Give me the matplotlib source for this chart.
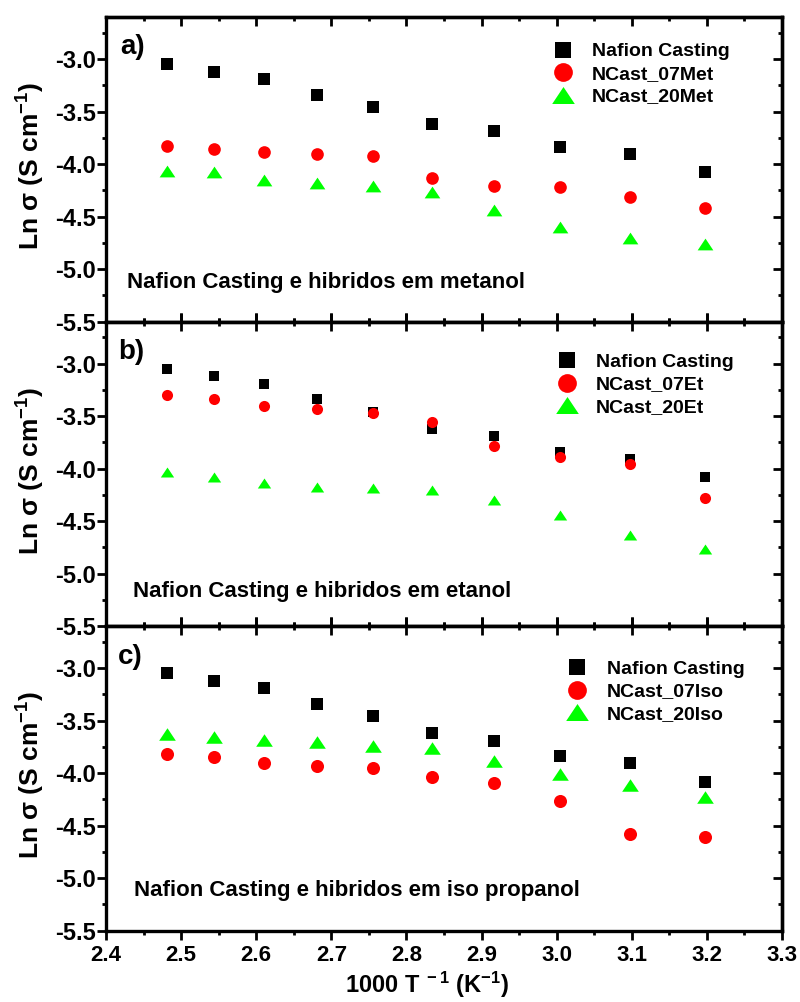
import matplotlib
matplotlib.use("Agg")
import matplotlib.pyplot as plt
from matplotlib.lines import Line2D
from matplotlib.ticker import MultipleLocator
from matplotlib.font_manager import FontProperties, findfont

plt.rcParams['font.family'] = ['Liberation Sans', 'DejaVu Sans']
plt.rcParams['font.weight'] = 'bold'
plt.rcParams['mathtext.fontset'] = 'custom'
plt.rcParams['mathtext.rm'] = 'Liberation Sans:bold'
plt.rcParams['mathtext.bf'] = 'Liberation Sans:bold'
plt.rcParams['mathtext.it'] = 'Liberation Sans:bold'
plt.rcParams['mathtext.default'] = 'bf'

# ---- data ----
inv_T = [2.481, 2.544, 2.611, 2.681, 2.756, 2.834, 2.917, 3.004, 3.098, 3.197]

nafion_casting = [-3.05, -3.12, -3.19, -3.34, -3.46, -3.62, -3.69, -3.84, -3.905, -4.08]

met_07 = [-3.83, -3.86, -3.886, -3.90, -3.925, -4.13, -4.21, -4.22, -4.31, -4.42]
met_20 = [-4.065, -4.08, -4.15, -4.18, -4.21, -4.27, -4.44, -4.60, -4.70, -4.76]

et_07 = [-3.30, -3.34, -3.40, -3.43, -3.475, -3.56, -3.785, -3.89, -3.955, -4.28]
et_20 = [-4.03, -4.08, -4.14, -4.175, -4.18, -4.20, -4.30, -4.44, -4.63, -4.77]

iso_07 = [-3.82, -3.85, -3.905, -3.93, -3.95, -4.04, -4.09, -4.265, -4.575, -4.61]
iso_20 = [-3.63, -3.66, -3.68, -3.70, -3.74, -3.76, -3.88, -4.01, -4.11, -4.23]

panel_tags = ['a)', 'b)', 'c)']
panel_notes = ['Nafion Casting e hibridos em metanol',
               'Nafion Casting e hibridos em etanol',
               'Nafion Casting e hibridos em iso propanol']
legend_labels = [['Nafion Casting', 'NCast_07Met', 'NCast_20Met'],
                 ['Nafion Casting', 'NCast_07Et', 'NCast_20Et'],
                 ['Nafion Casting', 'NCast_07Iso', 'NCast_20Iso']]
series_07 = [met_07, et_07, iso_07]
series_20 = [met_20, et_20, iso_20]

x_ticks = [2.4, 2.5, 2.6, 2.7, 2.8, 2.9, 3.0, 3.1, 3.2, 3.3]
y_ticks = [-5.5, -5.0, -4.5, -4.0, -3.5, -3.0]

# ---- styling ----
BLACK, RED, GREEN = '#000000', '#FF0000', '#00FF00'
TRI = [(-1, -0.75), (1, -0.75), (0, 0.75)]
SPW = 2.4
TW = 2.0
MAJ, MIN = 6.5, 3.2
BOLD_FILE = findfont(FontProperties(family='Liberation Sans', weight='bold'))
YTICK_FP = FontProperties(fname=BOLD_FILE, size=17)
XTICK_FP = FontProperties(fname=BOLD_FILE, size=16)

data_sizes = [(8.4, 9.1, 11.3), (7.7, 8.0, 9.6), (8.4, 9.4, 12.0)]
leg_sizes = (12, 13.5, 16.3)
leg_pos = [(0.661, 0.915), (0.667, 0.896), (0.683, 0.888)]
tag_pos = [(0.021, 0.90), (0.018, 0.90), (0.018, 0.90)]
note_pos = [(0.031, 0.129), (0.040, 0.114), (0.041, 0.133)]

fig = plt.figure(figsize=(8, 10.02), dpi=100)
gs = fig.add_gridspec(3, 1, left=106/800, right=782/800,
                      top=1-17/1002, bottom=1-930.7/1002, hspace=0)
axes = [fig.add_subplot(gs[i]) for i in range(3)]

for i, ax in enumerate(axes):
    sq, ci, tr = data_sizes[i]
    ax.plot(inv_T, nafion_casting, ls='none', marker='s', ms=sq, color=BLACK, mew=0)
    ax.plot(inv_T, series_07[i], ls='none', marker='o', ms=ci, color=RED, mew=0)
    ax.plot(inv_T, series_20[i], ls='none', marker=TRI, ms=tr, color=GREEN, mew=0)

    ax.set_xlim(2.4, 3.3)
    ax.set_ylim(-5.5, -2.6)
    ax.set_xticks(x_ticks)
    ax.set_yticks(y_ticks)
    ax.xaxis.set_minor_locator(MultipleLocator(0.05))
    ax.yaxis.set_minor_locator(MultipleLocator(0.25))
    for s in ax.spines.values():
        s.set_linewidth(SPW)

    bot_dir = 'out' if i == 2 else 'inout'
    bot_scale = 1.0 if i == 2 else 2.0
    ax.tick_params(axis='y', which='major', direction='out', length=MAJ, width=TW,
                   labelsize=17, pad=1, right=False)
    ax.tick_params(axis='y', which='minor', direction='out', length=MIN, width=TW, right=False)
    ax.tick_params(axis='x', which='major', direction=bot_dir, length=MAJ * bot_scale,
                   width=TW, labelsize=16, pad=4, top=False)
    ax.tick_params(axis='x', which='minor', direction=bot_dir, length=MIN * bot_scale,
                   width=TW, top=False)

    sy = ax.secondary_yaxis('right')
    sy.set_yticks(y_ticks)
    sy.yaxis.set_minor_locator(MultipleLocator(0.25))
    sy.tick_params(axis='y', which='major', direction='in', length=MAJ, width=TW, labelright=False)
    sy.tick_params(axis='y', which='minor', direction='in', length=MIN, width=TW)
    sy.spines['right'].set_linewidth(SPW)

    top_dir = 'in' if i == 0 else 'inout'
    top_scale = 1.0 if i == 0 else 2.0
    sx = ax.secondary_xaxis('top')
    sx.set_xticks(x_ticks)
    sx.xaxis.set_minor_locator(MultipleLocator(0.05))
    sx.tick_params(axis='x', which='major', direction=top_dir, length=MAJ * top_scale,
                   width=TW, labeltop=False)
    sx.tick_params(axis='x', which='minor', direction=top_dir, length=MIN * top_scale, width=TW)
    sx.spines['top'].set_linewidth(SPW)

    ax.set_yticklabels([f'{v:.1f}' for v in y_ticks])
    if i < 2:
        ax.tick_params(axis='x', labelbottom=False)
    else:
        ax.set_xticklabels([f'{v:.1f}' for v in x_ticks])

    ax.set_ylabel(r'Ln $\sigma$ (S cm$^{-1}$)', fontsize=19, fontweight='bold')
    ax.yaxis.set_label_coords(-0.087, 0.51)

    ax.text(tag_pos[i][0], tag_pos[i][1], panel_tags[i], transform=ax.transAxes,
            fontsize=20, fontweight='bold', va='center', ha='left')
    ax.text(note_pos[i][0], note_pos[i][1], panel_notes[i], transform=ax.transAxes,
            fontsize=16, fontweight='bold', va='center', ha='left')

    handles = [Line2D([], [], ls='none', marker='s', ms=leg_sizes[0], color=BLACK, mew=0),
               Line2D([], [], ls='none', marker='o', ms=leg_sizes[1], color=RED, mew=0),
               Line2D([], [], ls='none', marker=TRI, ms=leg_sizes[2], color=GREEN, mew=0)]
    ax.legend(handles, legend_labels[i], loc='upper left', bbox_to_anchor=leg_pos[i],
              frameon=False, borderpad=0, borderaxespad=0, handlelength=1.0,
              handletextpad=1.0, labelspacing=0.25,
              prop={'size': 14, 'weight': 'bold'})

axes[2].set_xlabel(r'1000 T$^{\ -1}$ (K$^{-1}$)', fontsize=17, fontweight='bold')
axes[2].xaxis.set_label_coords(0.475, -0.128)

fig.canvas.draw()
for ax in axes:
    for lbl in ax.get_yticklabels():
        lbl.set_fontproperties(YTICK_FP)
    for lbl in ax.get_xticklabels():
        lbl.set_fontproperties(XTICK_FP)

fig.savefig('out.png', dpi=100)
